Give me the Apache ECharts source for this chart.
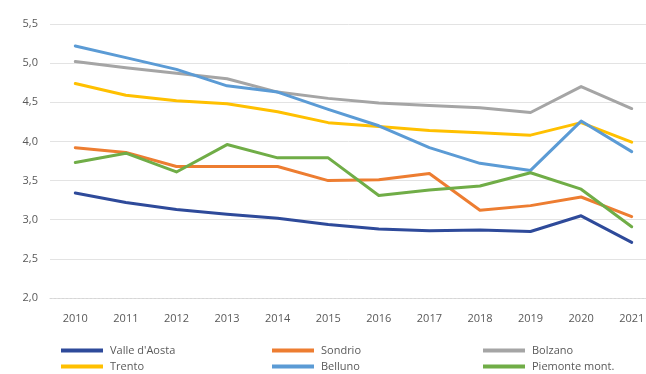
<!DOCTYPE html>
<html><head><meta charset="utf-8">
<script src="https://cdn.jsdelivr.net/npm/echarts@6/dist/echarts.min.js"></script>
<style>html,body{margin:0;padding:0;background:#fff}#c{width:646px;height:374px}</style>
</head><body><div id="c"></div>
<script>
const years = ['2010','2011','2012','2013','2014','2015','2016','2017','2018','2019','2020','2021'];
const valleAosta = [3.34,3.22,3.13,3.07,3.02,2.94,2.88,2.86,2.87,2.85,3.05,2.71];
const sondrio    = [3.92,3.86,3.68,3.68,3.68,3.50,3.51,3.59,3.12,3.18,3.29,3.04];
const bolzano    = [5.02,4.94,4.87,4.80,4.63,4.55,4.49,4.46,4.43,4.37,4.70,4.42];
const trento     = [4.74,4.59,4.52,4.48,4.38,4.24,4.19,4.14,4.11,4.08,4.24,3.99];
const belluno    = [5.22,5.07,4.92,4.71,4.63,4.41,4.20,3.92,3.72,3.63,4.26,3.87];
const piemonte   = [3.73,3.85,3.61,3.96,3.79,3.79,3.31,3.38,3.43,3.60,3.39,2.91];
const names = ["Valle d'Aosta","Sondrio","Bolzano","Trento","Belluno","Piemonte mont."];
const colors = ['#2E4A9A','#ED7D31','#A5A5A5','#FFC000','#5B9BD5','#70AD47'];
const values = [valleAosta,sondrio,bolzano,trento,belluno,piemonte];

const chart = echarts.init(document.getElementById('c'));
const legendLefts = [61,272,483];
const legendTops = [345,361];
const legends = names.map((n,i)=>({
  left: legendLefts[i%3], top: legendTops[Math.floor(i/3)], data:[n],
  itemWidth:42, itemHeight:4, icon:'rect', padding:0,
  textStyle:{color:'#595959', fontSize:11, fontFamily:'Open Sans', padding:[0,0,0,2]}
}));
chart.setOption({
  animation:false,
  grid:{left:50, top:24, width:607, height:274, outerBoundsMode:'none', containLabel:false},
  xAxis:{type:'category', data:years, boundaryGap:true,
    axisLine:{lineStyle:{color:'#d6d6d6', type:[2,2]}}, axisTick:{show:false},
    axisLabel:{color:'#595959', fontSize:11, margin:15, fontFamily:'Open Sans'}},
  yAxis:{type:'value', min:2, max:5.5, interval:0.5,
    axisLabel:{color:'#595959', fontSize:11, margin:12, fontFamily:'Open Sans',
      formatter:v=>v.toFixed(1).replace('.',',')},
    splitLine:{lineStyle:{color:'#e3e3e3'}}},
  legend: legends,
  series: names.map((n,i)=>({name:n, type:'line', data:values[i], showSymbol:false, symbol:'none',
    color:colors[i], lineStyle:{width:3, color:colors[i], cap:'round', join:'round'}}))
});
</script></body></html>
